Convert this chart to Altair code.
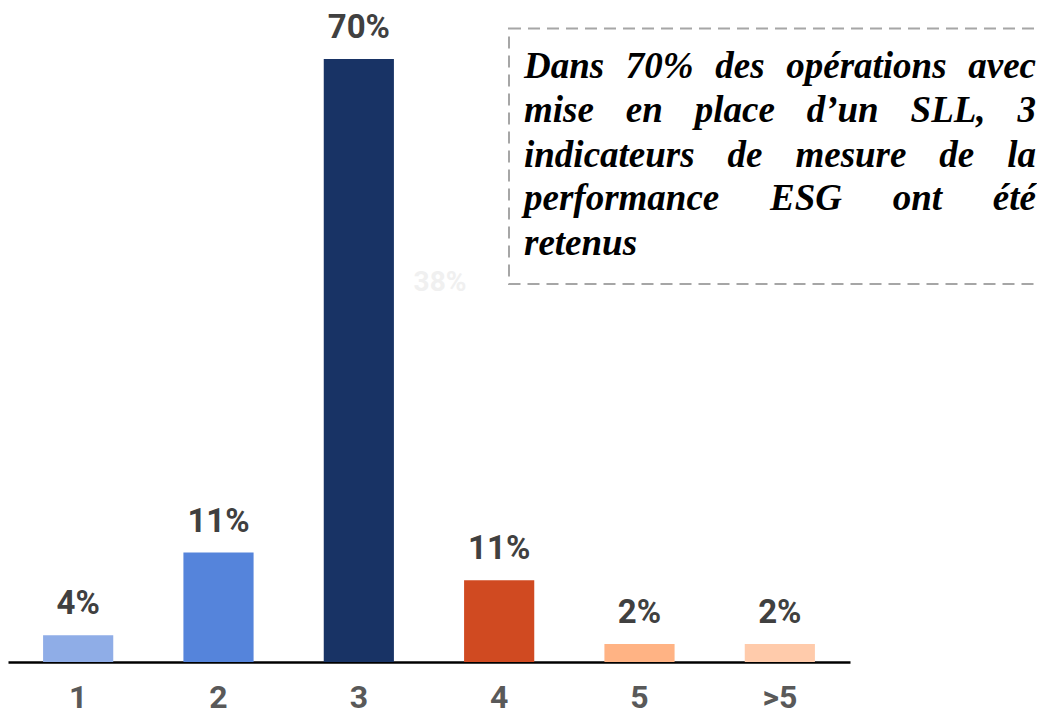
import altair as alt
import pandas as pd

# ---- data ----
categories = ["1", "2", "3", "4", "5", ">5"]
heights = [3.1, 12.7, 70.0, 9.5, 2.1, 2.1]          # bar heights as drawn (%)
labels = ["4%", "11%", "70%", "11%", "2%", "2%"]     # printed values
colors = ["#8FADE7", "#5584DB", "#183365", "#D04A21", "#FFB384", "#FFCBAB"]

note_lines = [
    "Dans 70% des opérations avec",
    "mise en place d’un SLL, 3",
    "indicateurs de mesure de la",
    "performance ESG ont été",
    "retenus",
]
ghost_label = "38%"

# ---- layout (pixels) ----
PLOT_W, PLOT_H = 842, 654
Y_MAX = 75.92
NOTE_LEFT, NOTE_RIGHT = 516, 1028
NOTE_BASELINES = [70, 114, 159, 202, 247]
NOTE_SIZE = 37

# approximate glyph widths (per 1000 em) of a Times-like bold italic face
GW = {" ": 250, "%": 833, ",": 250, "3": 500, "7": 500, "0": 500, "’": 333,
      "D": 722, "E": 667, "G": 722, "L": 611, "S": 556,
      "a": 500, "c": 444, "d": 500, "e": 444, "é": 444, "f": 333, "i": 278,
      "l": 278, "m": 778, "n": 556, "o": 500, "p": 500, "r": 389, "s": 389,
      "t": 278, "u": 556, "v": 444}


def wwidth(w):
    return sum(GW.get(c, 500) for c in w) * NOTE_SIZE / 1000.0


rows = []
for i, line in enumerate(note_lines):
    words = line.split(" ")
    widths = [wwidth(w) for w in words]
    last = i == len(note_lines) - 1
    if last or len(words) == 1:
        gap = GW[" "] * NOTE_SIZE / 1000.0
    else:
        gap = (NOTE_RIGHT - NOTE_LEFT - sum(widths)) / (len(words) - 1)
    cur = NOTE_LEFT
    for w, wd in zip(words, widths):
        rows.append({"word": w, "px": cur + wd / 2.0, "py": NOTE_BASELINES[i]})
        cur += wd + gap
words_df = pd.DataFrame(rows)

df = pd.DataFrame({"cat": categories, "val": heights, "lab": labels})

xscale = alt.Scale(domain=categories, paddingInner=0.5, paddingOuter=0.25)
yscale = alt.Scale(domain=[0, Y_MAX], nice=False, zero=True)
xaxis = alt.Axis(labelAngle=0, ticks=False, tickSize=0, labelPadding=20,
                 domainColor="#000000", domainWidth=2.5,
                 labelFont="Roboto", labelFontWeight="bold",
                 labelFontSize=32, labelColor="#595959", grid=False)

bars = alt.Chart(df).mark_bar().encode(
    x=alt.X("cat:N", sort=categories, scale=xscale, title=None, axis=xaxis),
    y=alt.Y("val:Q", scale=yscale, axis=None),
    color=alt.Color("cat:N", scale=alt.Scale(domain=categories, range=colors), legend=None),
)

vals = alt.Chart(df).mark_text(
    dy=-21, baseline="alphabetic", align="center", font="Roboto",
    fontWeight="bold", fontSize=33, color="#404040",
).encode(
    x=alt.X("cat:N", sort=categories, scale=xscale, title=None, axis=xaxis),
    y=alt.Y("val:Q", scale=yscale, axis=None),
    text="lab:N",
)

main = alt.layer(bars, vals)

box = alt.Chart(pd.DataFrame({"k": [0]})).mark_rect(
    fillOpacity=0, stroke="#A6A6A6", strokeWidth=2, strokeDash=[12, 7],
).encode(
    x=alt.value(501), x2=alt.value(1120), y=alt.value(20.5), y2=alt.value(276),
)

ghost = alt.Chart(pd.DataFrame({"t": [ghost_label]})).mark_text(
    font="Roboto", fontWeight="bold", fontSize=28, color="#F0F0F0",
    align="center", baseline="alphabetic",
).encode(x=alt.value(432), y=alt.value(283), text="t:N")

note = alt.Chart(words_df).mark_text(
    font="Liberation Serif", fontStyle="italic", fontWeight="bold",
    fontSize=NOTE_SIZE, color="#000000", align="center", baseline="alphabetic",
).encode(
    x=alt.X("px:Q", scale=None, axis=None),
    y=alt.Y("py:Q", scale=None, axis=None),
    text="word:N",
)

chart = alt.layer(main, ghost, box, note).resolve_scale(
    x="independent", y="independent"
).properties(
    width=PLOT_W, height=PLOT_H,
    autosize=alt.AutoSizeParams(type="none"),
    padding={"left": 0, "top": 0, "right": 187, "bottom": 52},
).configure_view(stroke=None).configure_axis(grid=False)

chart.save("out.html", embed_options={"renderer": "svg", "actions": False})
